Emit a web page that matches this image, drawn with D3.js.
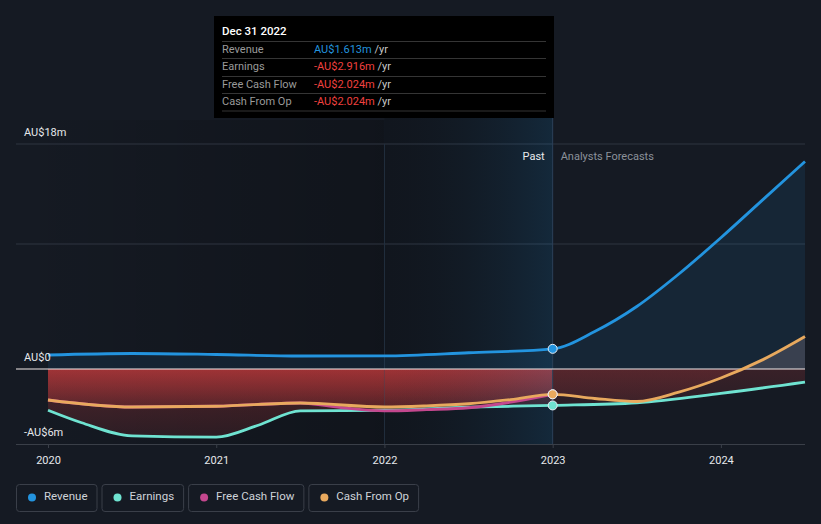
<!DOCTYPE html>
<html>
<head>
<meta charset="utf-8">
<script src="https://cdn.jsdelivr.net/npm/d3@7/dist/d3.min.js"></script>
<style>
  html, body { margin: 0; padding: 0; background: #151a23; }
  svg { display: block; font-family: Roboto, "Noto Sans", sans-serif; }
</style>
</head>
<body>
<svg id="chart" width="821" height="524"></svg>
<script>
// ---------- data (AU$ millions, decimal years) ----------
const revenueDates    = [2020.0, 2020.5, 2021.0, 2021.5, 2022.0, 2022.5, 2023.0, 2023.25, 2023.5, 2023.75, 2024.0, 2024.25, 2024.5];
const revenueValues   = [1.12, 1.24, 1.16, 1.04, 1.05, 1.3, 1.613, 3.0, 5.0, 7.6, 10.5, 13.55, 16.6];

const earningsDates   = [2020.0, 2020.2, 2020.5, 2021.0, 2021.25, 2021.5, 2022.0, 2022.5, 2023.0, 2023.5, 2024.0, 2024.5];
const earningsValues  = [-3.3, -4.3, -5.35, -5.45, -4.5, -3.35, -3.3, -3.05, -2.916, -2.7, -1.95, -1.05];

const fcfDates        = [2020.0, 2020.5, 2021.0, 2021.5, 2021.75, 2022.0, 2022.25, 2022.5, 2022.75, 2023.0];
const fcfValues       = [-2.48, -3.04, -2.98, -2.72, -3.1, -3.35, -3.25, -3.1, -2.65, -2.024];

const cfoDates        = [2020.0, 2020.5, 2021.0, 2021.5, 2022.0, 2022.25, 2022.5, 2022.75, 2023.0, 2023.25, 2023.5, 2023.75, 2024.0, 2024.25, 2024.5];
const cfoValues       = [-2.48, -3.04, -2.98, -2.72, -3.04, -2.95, -2.78, -2.45, -2.024, -2.36, -2.6, -1.85, -0.72, 0.75, 2.6];

const xTickValues     = [2020, 2021, 2022, 2023, 2024];
const xTickLabels     = ["2020", "2021", "2022", "2023", "2024"];
const yLabelValues    = [18, 0, -6];
const yLabelTexts     = ["AU$18m", "AU$0", "-AU$6m"];
const gridValues      = [18, 10];

const pastEnd         = 2023.0;
const highlightStart  = 2022.0;

const tooltipTitle    = "Dec 31 2022";
const tooltipLabels   = ["Revenue", "Earnings", "Free Cash Flow", "Cash From Op"];
const tooltipValues   = ["AU$1.613m", "-AU$2.916m", "-AU$2.024m", "-AU$2.024m"];
const tooltipUnit     = "/yr";

const legendNames     = ["Revenue", "Earnings", "Free Cash Flow", "Cash From Op"];
const legendColors    = ["#2394df", "#6fe3d1", "#c4478e", "#e8a95e"];

// ---------- setup ----------
const svg = d3.select("#chart");
const W = 821, H = 524;
const pLeft = 48, pRight = 805, pTop = 144, pBottom = 444, outerLeft = 16;

const x = d3.scaleLinear().domain([2020, 2024.5]).range([pLeft, pRight]);
const y = d3.scaleLinear().domain([-6, 18]).range([pBottom, pTop]);

const zip = (d, v) => d.map((t, i) => ({t, v: v[i]}));
const revenue = zip(revenueDates, revenueValues);
const earnings = zip(earningsDates, earningsValues);
const fcf = zip(fcfDates, fcfValues);
const cfo = zip(cfoDates, cfoValues);

const defs = svg.append("defs");

function redGrad(id, a0, a1, a2) {
  const g = defs.append("linearGradient").attr("id", id)
    .attr("gradientUnits", "userSpaceOnUse")
    .attr("x1", 0).attr("x2", 0).attr("y1", y(0)).attr("y2", y(-6));
  g.append("stop").attr("offset", 0).attr("stop-color", "rgb(230,65,65)").attr("stop-opacity", a0);
  g.append("stop").attr("offset", 0.45).attr("stop-color", "rgb(230,65,65)").attr("stop-opacity", a1);
  g.append("stop").attr("offset", 1).attr("stop-color", "rgb(230,65,65)").attr("stop-opacity", a2);
}
redGrad("redPast", 0.42, 0.2, 0.1);
redGrad("redFuture", 0.17, 0.1, 0.06);

const dk = defs.append("linearGradient").attr("id", "darkGrad")
  .attr("gradientUnits", "userSpaceOnUse").attr("x1", outerLeft).attr("x2", x(highlightStart)).attr("y1", 0).attr("y2", 0);
dk.append("stop").attr("offset", 0).attr("stop-color", "#000").attr("stop-opacity", 0);
dk.append("stop").attr("offset", 1).attr("stop-color", "#000").attr("stop-opacity", 0.22);

const hl = defs.append("linearGradient").attr("id", "hlGrad")
  .attr("gradientUnits", "userSpaceOnUse").attr("x1", x(highlightStart)).attr("x2", x(pastEnd)).attr("y1", 0).attr("y2", 0);
hl.append("stop").attr("offset", 0).attr("stop-color", "#1a2a3c").attr("stop-opacity", 0.0);
hl.append("stop").attr("offset", 1).attr("stop-color", "#2394df").attr("stop-opacity", 0.15);

defs.append("clipPath").attr("id", "clipPast").append("rect")
  .attr("x", pLeft).attr("y", 0).attr("width", x(pastEnd) - pLeft).attr("height", H);
defs.append("clipPath").attr("id", "clipFuture").append("rect")
  .attr("x", x(pastEnd)).attr("y", 0).attr("width", pRight - x(pastEnd)).attr("height", H);
defs.append("clipPath").attr("id", "clipBelow").append("rect")
  .attr("x", 0).attr("y", y(0)).attr("width", W).attr("height", H);
defs.append("clipPath").attr("id", "clipAbove").append("rect")
  .attr("x", 0).attr("y", 0).attr("width", W).attr("height", y(0));

// ---------- background overlays ----------
svg.append("rect").attr("x", outerLeft).attr("y", 120).attr("width", x(highlightStart) - outerLeft).attr("height", pBottom - 120)
  .attr("fill", "url(#darkGrad)");
svg.append("rect").attr("x", x(highlightStart)).attr("y", 118).attr("width", x(pastEnd) - x(highlightStart)).attr("height", pBottom - 118)
  .attr("fill", "#11161e").attr("opacity", 0.9);

svg.selectAll("line.grid").data(gridValues).join("line")
  .attr("x1", outerLeft).attr("x2", pRight).attr("y1", d => y(d)).attr("y2", d => y(d))
  .attr("stroke", "#2f3540").attr("stroke-width", 1);

svg.append("line").attr("x1", x(highlightStart)).attr("x2", x(highlightStart)).attr("y1", pTop).attr("y2", pBottom)
  .attr("stroke", "#1e2a38").attr("stroke-width", 1);

// ---------- areas ----------
const curve = d3.curveMonotoneX;
const area = d3.area().x(d => x(d.t)).y0(y(0)).y1(d => y(d.v)).curve(curve);
const line = d3.line().x(d => x(d.t)).y(d => y(d.v)).curve(curve);

svg.append("path").attr("d", area(revenue)).attr("fill", "#2394df").attr("opacity", 0.1);

[["clipPast", "redPast"], ["clipFuture", "redFuture"]].forEach(([clip, grad]) => {
  const g = svg.append("g").attr("clip-path", `url(#${clip})`);
  const gb = g.append("g").attr("clip-path", "url(#clipBelow)");
  gb.append("path").attr("d", area(earnings)).attr("fill", `url(#${grad})`);
  gb.append("path").attr("d", area(cfo)).attr("fill", `url(#${grad})`);
  const ga = g.append("g").attr("clip-path", "url(#clipAbove)");
  ga.append("path").attr("d", area(cfo)).attr("fill", "rgb(240,205,210)").attr("opacity", 0.16);
});

svg.append("rect").attr("x", x(highlightStart)).attr("y", 118).attr("width", x(pastEnd) - x(highlightStart)).attr("height", pBottom - 118)
  .attr("fill", "url(#hlGrad)");
svg.append("line").attr("x1", x(highlightStart)).attr("x2", x(highlightStart)).attr("y1", pTop).attr("y2", pBottom)
  .attr("stroke", "#2a3a4c").attr("stroke-width", 1).attr("opacity", 0.35);
svg.append("line").attr("x1", x(pastEnd)).attr("x2", x(pastEnd)).attr("y1", 118).attr("y2", pBottom)
  .attr("stroke", "#2b4158").attr("stroke-width", 1);

svg.append("line").attr("x1", outerLeft).attr("x2", pRight).attr("y1", y(0)).attr("y2", y(0))
  .attr("stroke", "#f4eaea").attr("stroke-width", 1.2);
svg.append("line").attr("x1", outerLeft).attr("x2", pRight).attr("y1", pBottom + 0.5).attr("y2", pBottom + 0.5)
  .attr("stroke", "#3a3f48").attr("stroke-width", 1.2);

// ---------- lines ----------
const lw = 2.8;
svg.append("path").attr("d", line(revenue)).attr("fill", "none").attr("stroke", legendColors[0]).attr("stroke-width", lw);
svg.append("path").attr("d", line(earnings)).attr("fill", "none").attr("stroke", legendColors[1]).attr("stroke-width", lw);
svg.append("path").attr("d", line(fcf)).attr("fill", "none").attr("stroke", legendColors[2]).attr("stroke-width", lw);
svg.append("path").attr("d", line(cfo)).attr("fill", "none").attr("stroke", legendColors[3]).attr("stroke-width", lw);

const markerData = [
  {v: fcfValues[fcfDates.indexOf(pastEnd)], c: legendColors[2]},
  {v: earningsValues[earningsDates.indexOf(pastEnd)], c: legendColors[1]},
  {v: cfoValues[cfoDates.indexOf(pastEnd)], c: legendColors[3]},
  {v: revenueValues[revenueDates.indexOf(pastEnd)], c: legendColors[0]},
];
svg.selectAll("circle.mk").data(markerData).join("circle")
  .attr("cx", x(pastEnd)).attr("cy", d => y(d.v)).attr("r", 4.5)
  .attr("fill", d => d.c).attr("stroke", "#e8eef5").attr("stroke-width", 1);

// ---------- axes text ----------
const xAxis = d3.axisBottom(x).tickValues(xTickValues).tickFormat((d, i) => xTickLabels[i]).tickSize(4).tickPadding(8);
const gx = svg.append("g").attr("transform", `translate(0,${pBottom})`).call(xAxis);
gx.select(".domain").remove();
gx.selectAll("line").attr("stroke", "#3a3f48");
gx.selectAll("text").attr("fill", "#e6e8eb").attr("font-size", 11).attr("font-family", "Roboto, sans-serif");

svg.selectAll("text.ylab").data(yLabelValues).join("text")
  .attr("x", 24).attr("y", d => y(d) - 8)
  .attr("fill", "#e6e8eb").attr("font-size", 11)
  .text((d, i) => yLabelTexts[i]);

svg.append("text").attr("x", x(pastEnd) - 8).attr("y", 160).attr("text-anchor", "end")
  .attr("fill", "#e8eaed").attr("font-size", 11).text("Past");
svg.append("text").attr("x", x(pastEnd) + 8).attr("y", 160)
  .attr("fill", "#8b919a").attr("font-size", 11).text("Analysts Forecasts");

// ---------- tooltip ----------
const tt = svg.append("g");
tt.append("rect").attr("x", 214).attr("y", 16).attr("width", 340).attr("height", 102).attr("fill", "#000");
tt.append("text").attr("x", 222).attr("y", 35).attr("fill", "#fff").attr("font-size", 11.5).attr("font-weight", 500).text(tooltipTitle);
const sepY = [41.5, 58.5, 76.5, 93.5, 111];
tt.selectAll("line.sep").data(sepY).join("line")
  .attr("x1", 222).attr("x2", 546).attr("y1", d => d).attr("y2", d => d)
  .attr("stroke", "#353535").attr("stroke-width", 1);
const rowY = [53, 70, 88, 105];
tooltipLabels.forEach((lab, i) => {
  tt.append("text").attr("x", 222).attr("y", rowY[i]).attr("fill", "#9a9a9a").attr("font-size", 11).text(lab);
  const t = tt.append("text").attr("x", 314).attr("y", rowY[i]).attr("font-size", 11);
  t.append("tspan").attr("fill", tooltipValues[i].startsWith("-") ? "#f0413f" : "#2394df").text(tooltipValues[i]);
  t.append("tspan").attr("fill", "#c8c8c8").text(" " + tooltipUnit);
});

// ---------- legend ----------
const lg = svg.append("g");
let lx = 16;
legendNames.forEach((name, i) => {
  const g = lg.append("g");
  const txt = g.append("text").attr("x", lx + 28).attr("y", 500).attr("fill", "#cfd3d9").attr("font-size", 11.5).text(name);
  const tw = txt.node().getComputedTextLength();
  const bw = 28 + tw + 9;
  g.insert("rect", "text").attr("x", lx + 0.5).attr("y", 484.5).attr("width", bw).attr("height", 27).attr("rx", 3)
    .attr("fill", "none").attr("stroke", "#3a3f49").attr("stroke-width", 1);
  g.append("circle").attr("cx", lx + 16).attr("cy", 497.5).attr("r", 4).attr("fill", legendColors[i]);
  lx += bw + 5;
});
</script>
</body>
</html>
